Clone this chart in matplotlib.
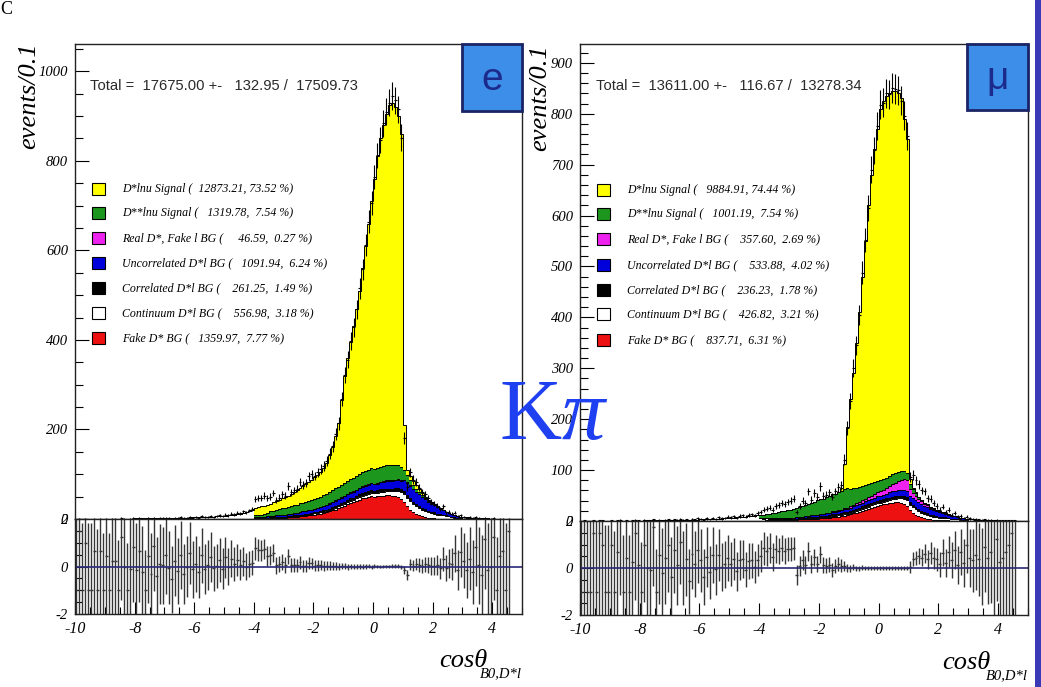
import numpy as np
import matplotlib.pyplot as plt
from matplotlib.patches import Rectangle
from matplotlib.ticker import MultipleLocator

W, H = 1041, 687

# bins of 0.1 from -10 to 5; the components are read for the core window -4.0 .. 3.0
edges = np.round(np.arange(-10.0, 5.0001, 0.1), 2)
centers = edges[:-1] + 0.05

legend_names = ['D*lnu Signal', 'D**lnu Signal', 'Real D*, Fake l BG',
                'Uncorrelated D*l BG', 'Correlated D*l BG', 'Continuum D*l BG',
                'Fake D* BG']

# ---- electron panel -------------------------------------------------------
e_total_text = 'Total =  17675.00 +-   132.95 /  17509.73'
e_counts = [12873.21, 1319.78, 46.59, 1091.94, 261.25, 556.98, 1359.97]
e_percent = [73.52, 7.54, 0.27, 6.24, 1.49, 3.18, 7.77]

e_signal = [17, 18, 18, 18, 18, 17, 19, 20, 21, 22,
            24, 25, 27, 29, 33, 35, 38, 40, 42, 46,
            48, 51, 56, 62, 70, 82, 95, 116, 143, 188,
            240, 275, 306, 338, 375, 409, 456, 503, 550, 597,
            648, 697, 734, 762, 785, 804, 809, 799, 779, 743,
            100, 12, 8, 9, 7, 5, 4, 2, 2, 0,
            1, 1, 0, 0, 0, 0, 0, 0, 0, 0]
e_dss = [4, 5, 6, 7, 8, 10, 11, 12, 13, 15,
         15, 16, 17, 17, 18, 19, 19, 20, 21, 21,
         22, 23, 23, 24, 25, 25, 26, 27, 27, 28,
         28, 29, 29, 30, 30, 31, 31, 32, 32, 32,
         33, 33, 33, 34, 34, 34, 34, 33, 32, 30,
         22, 16, 12, 9, 7, 5, 4, 3, 2, 2,
         1, 1, 1, 1, 0, 0, 0, 0, 0, 0]
e_fakel = [0, 0, 0, 0, 0, 0, 0, 0, 0, 0,
           0, 0, 0, 0, 0, 0, 0, 0, 0, 0,
           0, 0, 0, 0, 0, 1, 1, 1, 1, 1,
           1, 1, 1, 1, 1, 1, 1, 1, 1, 1,
           1, 1, 1, 2, 2, 2, 2, 2, 2, 2,
           2, 2, 2, 1, 1, 1, 1, 1, 1, 1,
           0, 0, 0, 0, 0, 0, 0, 0, 0, 0]
e_uncorr = [2, 2, 2, 3, 3, 3, 3, 4, 4, 4,
            5, 5, 5, 6, 6, 6, 7, 7, 8, 8,
            8, 9, 9, 10, 10, 11, 11, 12, 12, 13,
            12, 12, 13, 13, 13, 14, 14, 14, 15, 15,
            15, 15, 16, 16, 16, 17, 17, 17, 18, 18,
            24, 26, 27, 27, 26, 25, 24, 22, 20, 18,
            16, 14, 12, 10, 8, 7, 6, 5, 4, 3]
e_corr = [0, 0, 0, 0, 0, 1, 1, 1, 1, 1,
          1, 1, 1, 1, 1, 2, 2, 2, 2, 2,
          2, 2, 3, 3, 3, 3, 4, 4, 4, 4,
          5, 5, 5, 5, 5, 6, 6, 6, 6, 6,
          6, 6, 6, 6, 6, 6, 6, 6, 6, 6,
          6, 6, 6, 5, 5, 5, 4, 4, 3, 3,
          3, 2, 2, 2, 1, 1, 1, 1, 0, 0]
e_cont = [1, 1, 1, 1, 1, 1, 1, 1, 1, 1,
          1, 1, 2, 2, 2, 2, 2, 2, 2, 2,
          3, 3, 3, 3, 3, 3, 4, 4, 4, 4,
          4, 5, 5, 5, 5, 6, 6, 6, 6, 7,
          7, 7, 8, 8, 9, 9, 10, 12, 14, 16,
          18, 20, 20, 19, 18, 17, 15, 14, 12, 11,
          10, 9, 8, 7, 6, 5, 4, 3, 3, 2]
e_faked = [1, 1, 1, 1, 2, 2, 2, 2, 3, 3,
           3, 4, 4, 5, 5, 6, 6, 7, 8, 9,
           10, 11, 12, 13, 15, 17, 19, 21, 24, 27,
           30, 33, 36, 38, 41, 43, 46, 48, 50, 52,
           50, 51, 52, 52, 53, 53, 52, 51, 49, 45,
           38, 28, 20, 15, 11, 8, 6, 4, 3, 2,
           2, 1, 1, 1, 1, 1, 0, 0, 0, 0]
e_data = [44, 46, 47, 52, 46, 50, 58, 42, 48, 55,
          52, 74, 60, 64, 68, 82, 76, 80, 95, 100,
          96, 104, 112, 118, 130, 146, 162, 190, 214, 268,
          322, 356, 398, 428, 468, 515, 558, 612, 664, 706,
          764, 812, 846, 884, 910, 930, 945, 935, 915, 852,
          180, 72, 104, 88, 82, 70, 60, 55, 46, 38,
          34, 30, 22, 28, 15, 16, 12, 14, 6, 8]
# fit and data outside the core window (-10 .. -4 and 3 .. 5)
e_tail_lo_fit = [0.4, 0.4, 0.5, 0.5, 0.5, 0.5, 0.6, 0.6, 0.6, 0.7,
                 0.7, 0.7, 0.8, 0.8, 0.9, 0.9, 1.0, 1.0, 1.1, 1.1,
                 1.2, 1.2, 1.3, 1.4, 1.4, 1.5, 1.6, 1.7, 1.8, 1.9,
                 2.0, 2.1, 2.2, 2.4, 2.5, 2.7, 2.9, 3.0, 3.2, 3.4,
                 3.6, 3.9, 4.1, 4.4, 4.7, 5.0, 5.4, 5.8, 6.2, 6.6,
                 7.2, 8, 9, 10, 11, 12, 14, 15, 17, 19]
e_tail_lo_data = [0, 1, 0, 1, 0, 0, 1, 0, 1, 0,
                  1, 0, 1, 1, 0, 2, 1, 0, 1, 2,
                  1, 2, 1, 0, 2, 1, 3, 1, 2, 2,
                  3, 2, 1, 3, 2, 4, 2, 3, 5, 3,
                  4, 3, 6, 4, 5, 7, 5, 6, 8, 6,
                  10, 8, 12, 11, 14, 13, 17, 15, 19, 22]
e_tail_hi_fit = [4, 3.5, 3, 2.6, 2.2, 1.9, 1.6, 1.4, 1.2, 1.0,
                 0.9, 0.8, 0.7, 0.6, 0.5, 0.4, 0, 0, 0, 0]
e_tail_hi_data = [5, 3, 4, 2, 4, 2, 1, 3, 1, 1,
                  2, 0, 1, 1, 0, 1, 0, 0, 0, 0]

# ---- muon panel -----------------------------------------------------------
m_total_text = 'Total =  13611.00 +-   116.67 /  13278.34'
m_counts = [9884.91, 1001.19, 357.60, 533.88, 236.23, 426.82, 837.71]
m_percent = [74.44, 7.54, 2.69, 4.02, 1.78, 3.21, 6.31]

m_signal = [0, 0, 0, 0, 0, 0, 0, 0, 0, 0,
            0, 0, 0, 0, 0, 0, 0, 0, 0, 0,
            0, 0, 0, 0, 0, 0, 0, 5, 50, 120,
            177, 226, 285, 344, 411, 479, 547, 605, 653, 691,
            730, 742, 750, 752, 753, 751, 744, 732, 692, 656,
            10, 3, 1, 0, 0, 0, 0, 0, 0, 0,
            0, 0, 0, 0, 0, 0, 0, 0, 0, 0]
m_dss = [6, 7, 8, 9, 10, 11, 12, 13, 14, 15,
         16, 18, 19, 20, 22, 23, 24, 24, 26, 29,
         30, 31, 32, 33, 34, 35, 36, 37, 37, 38,
         34, 32, 30, 29, 28, 27, 26, 25, 24, 23,
         22, 22, 21, 20, 20, 19, 18, 17, 16, 14,
         10, 7, 5, 4, 3, 2, 2, 1, 1, 1,
         1, 0, 0, 0, 0, 0, 0, 0, 0, 0]
m_fakel = [0, 0, 0, 0, 0, 0, 0, 0, 0, 0,
           0, 0, 0, 0, 0, 0, 0, 0, 0, 0,
           0, 0, 0, 0, 1, 1, 1, 1, 2, 2,
           3, 3, 4, 4, 5, 5, 6, 6, 7, 7,
           8, 9, 10, 12, 14, 16, 18, 20, 22, 22,
           14, 10, 8, 6, 5, 4, 3, 2, 2, 1,
           1, 1, 1, 1, 0, 0, 0, 0, 0, 0]
m_uncorr = [1, 1, 1, 1, 1, 2, 2, 2, 2, 2,
            2, 2, 3, 3, 3, 3, 3, 4, 4, 4,
            4, 4, 5, 5, 5, 5, 6, 6, 6, 6,
            6, 7, 7, 7, 7, 8, 8, 8, 8, 9,
            9, 9, 9, 10, 10, 10, 10, 11, 11, 11,
            12, 13, 14, 14, 14, 13, 13, 12, 11, 10,
            9, 8, 7, 6, 5, 5, 4, 3, 3, 2]
m_corr = [0, 0, 0, 0, 0, 0, 1, 1, 1, 1,
          1, 1, 1, 1, 1, 1, 2, 2, 2, 2,
          2, 2, 2, 3, 3, 3, 3, 3, 4, 4,
          4, 4, 4, 4, 5, 5, 5, 5, 5, 5,
          5, 5, 5, 5, 5, 5, 5, 5, 5, 5,
          5, 5, 5, 5, 4, 4, 4, 3, 3, 3,
          2, 2, 2, 1, 1, 1, 1, 1, 0, 0]
m_cont = [5, 4, 4, 3, 3, 2, 2, 2, 1, 1,
          1, 1, 1, 1, 1, 2, 2, 2, 2, 2,
          2, 2, 2, 2, 3, 3, 3, 3, 3, 3,
          3, 3, 4, 4, 4, 4, 4, 5, 5, 5,
          5, 5, 6, 6, 7, 7, 8, 9, 10, 12,
          10, 11, 11, 10, 9, 8, 7, 6, 6, 5,
          5, 5, 4, 4, 3, 3, 3, 2, 2, 2]
m_faked = [0, 0, 1, 1, 1, 1, 1, 1, 1, 2,
           2, 2, 2, 3, 3, 3, 3, 4, 4, 4,
           5, 5, 6, 6, 7, 7, 8, 9, 10, 11,
           13, 15, 16, 18, 20, 22, 24, 26, 28, 30,
           31, 33, 34, 35, 36, 37, 37, 36, 34, 30,
           22, 16, 12, 9, 7, 5, 4, 3, 2, 2,
           1, 1, 1, 1, 0, 0, 0, 0, 0, 0]
m_data = [18, 22, 24, 26, 22, 29, 31, 35, 33, 38,
          40, 44, 18, 30, 40, 36, 58, 42, 55, 48,
          68, 50, 52, 56, 48, 58, 66, 70, 120, 182,
          236, 300, 345, 405, 488, 552, 615, 690, 728, 776,
          818, 822, 840, 838, 850, 848, 846, 826, 796, 757,
          86, 90, 80, 72, 60, 58, 45, 44, 36, 30,
          22, 28, 18, 22, 12, 16, 9, 10, 6, 8]
m_tail_lo_fit = [0.3, 0.3, 0.3, 0.4, 0.4, 0.4, 0.4, 0.5, 0.5, 0.5,
                 0.5, 0.6, 0.6, 0.6, 0.7, 0.7, 0.7, 0.8, 0.8, 0.9,
                 0.9, 1.0, 1.0, 1.1, 1.1, 1.2, 1.3, 1.3, 1.4, 1.5,
                 1.6, 1.7, 1.8, 1.9, 2.0, 2.2, 2.3, 2.5, 2.6, 2.8,
                 3.0, 3.2, 3.4, 3.7, 3.9, 4.2, 4.5, 4.8, 5.2, 5.6,
                 6.0, 6.5, 7.0, 7.5, 8.0, 8.6, 9.2, 9.8, 10.5, 11.2]
m_tail_lo_data = [0, 1, 0, 0, 1, 0, 1, 1, 0, 0,
                  1, 0, 1, 2, 0, 1, 0, 1, 2, 1,
                  0, 2, 1, 1, 3, 0, 2, 1, 2, 3,
                  1, 3, 2, 4, 2, 3, 1, 4, 3, 5,
                  4, 2, 5, 3, 6, 4, 7, 5, 6, 8,
                  7, 9, 6, 10, 11, 8, 12, 13, 11, 15]
m_tail_hi_fit = [3.5, 3, 2.6, 2.2, 1.9, 1.6, 1.4, 1.2, 1.0, 0.9,
                 0.8, 0.7, 0.6, 0.5, 0.4, 0.3, 0, 0, 0, 0]
m_tail_hi_data = [5, 4, 4, 3, 2, 3, 2, 2, 1, 2,
                  1, 1, 1, 1, 1, 1, 0, 0, 0, 0]

MC_W = 4.0   # MC weight used for the residual errors
fill_colors = ['#ee1111', 'white', 'black', '#0000dd', '#ee22ee', '#1c961c', '#ffff00']
legend_colors = ['#ffff00', '#1c961c', '#ee22ee', '#0000dd', 'black', 'white', '#ee1111']

plt.rcParams['font.family'] = ['Liberation Serif', 'DejaVu Serif']
plt.rcParams['font.style'] = 'italic'
plt.rcParams['axes.unicode_minus'] = False
plt.rcParams['mathtext.fontset'] = 'custom'
plt.rcParams['mathtext.rm'] = 'Liberation Serif'
plt.rcParams['mathtext.it'] = 'Liberation Serif:italic'


def pad(core, lo=None, hi=None):
    lo = np.zeros(60) if lo is None else np.asarray(lo, float)
    hi = np.zeros(20) if hi is None else np.asarray(hi, float)
    return np.concatenate([lo, np.asarray(core, float), hi])


def px_rect(left, top, right, bottom):
    return [left / W, 1 - bottom / H, (right - left) / W, (bottom - top) / H]


def draw_panel(fig, box, ymax, ymajor, yminor, comps, lo_fit, hi_fit, data, lo_data, hi_data):
    left, top, right, mid, bottom = box
    ax = fig.add_axes(px_rect(left, top, right, mid))
    axr = fig.add_axes(px_rect(left, mid, right, bottom))

    faked, cont, corr, uncorr, fakel, dss, signal = comps
    layers = [pad(faked), pad(cont, lo_fit, hi_fit), pad(corr), pad(uncorr),
              pad(fakel), pad(dss), pad(signal)]
    base = np.zeros(len(centers))
    for vals, c in zip(layers, fill_colors):
        topv = base + vals
        ax.stairs(topv, edges, baseline=base, fill=True, color=c, lw=0)
        ax.stairs(topv, edges, baseline=None, color='black', lw=0.7)
        base = topv
    fit = base

    d = pad(data, lo_data, hi_data)
    m = d > 0
    ax.errorbar(centers[m], d[m], yerr=np.sqrt(d[m]), xerr=0.05, fmt='none',
                ecolor='black', elinewidth=0.8, capsize=0, zorder=5)

    ax.set_xlim(-10, 5)
    ax.set_ylim(0, ymax)
    ax.yaxis.set_major_locator(MultipleLocator(ymajor))
    ax.yaxis.set_minor_locator(MultipleLocator(yminor))
    ax.tick_params(axis='x', bottom=False, labelbottom=False)
    ax.tick_params(axis='y', which='major', direction='in', length=10, width=0.8,
                   labelsize=10.5, pad=5)
    ax.tick_params(axis='y', which='minor', direction='in', length=6, width=0.8)

    # residuals (data - fit) / fit
    f = fit > 0
    res = (d[f] - fit[f]) / fit[f]
    err = np.sqrt(d[f] + MC_W * fit[f]) / fit[f]
    axr.errorbar(centers[f], res, yerr=err, xerr=0.05, fmt='none',
                 ecolor='#363636', elinewidth=1.0, capsize=0)
    axr.axhline(0, color='#2a2a78', lw=1.2)
    axr.set_xlim(-10, 5)
    axr.set_ylim(-2, 2)
    axr.yaxis.set_major_locator(MultipleLocator(2))
    axr.yaxis.set_minor_locator(MultipleLocator(0.5))
    axr.xaxis.set_major_locator(MultipleLocator(2))
    axr.xaxis.set_minor_locator(MultipleLocator(0.5))
    axr.tick_params(which='major', direction='in', length=9, width=0.8, labelsize=11.5, pad=5)
    axr.tick_params(which='minor', direction='in', length=5, width=0.8)
    axr.tick_params(axis='y', labelsize=10.5)
    axr.set_xticks([-10, -8, -6, -4, -2, 0, 2, 4])

    for a in (ax, axr):
        for s in a.spines.values():
            s.set_linewidth(1.0)
            s.set_color('#222222')
    return ax, axr


fig = plt.figure(figsize=(W / 100, H / 100), dpi=100)
fig.patch.set_facecolor('white')

e_comps = [e_faked, e_cont, e_corr, e_uncorr, e_fakel, e_dss, e_signal]
m_comps = [m_faked, m_cont, m_corr, m_uncorr, m_fakel, m_dss, m_signal]
draw_panel(fig, (75, 44, 522, 519, 614), 1061, 200, 50, e_comps,
           e_tail_lo_fit, e_tail_hi_fit, e_data, e_tail_lo_data, e_tail_hi_data)
draw_panel(fig, (580, 44, 1028, 521, 615), 937, 100, 20, m_comps,
           m_tail_lo_fit, m_tail_hi_fit, m_data, m_tail_lo_data, m_tail_hi_data)


def ftext(x, y, s, **kw):
    fig.text(x / W, 1 - y / H, s, **kw)


def legend(x_box, x_text, ys, counts, percents):
    for y, name, c, n, p in zip(ys, legend_names, legend_colors, counts, percents):
        fig.add_artist(Rectangle((x_box / W, 1 - (y + 6) / H), 13 / W, 12 / H,
                                 facecolor=c, edgecolor='black', lw=0.8,
                                 transform=fig.transFigure))
        ftext(x_text, y, '%s ( %9.2f, %5.2f %%)' % (name, n, p),
              fontsize=8.6, va='center', ha='left')


legend(92, 122, [189, 213, 238, 263, 288, 313, 338], e_counts, e_percent)
legend(597, 627, [190, 214, 239, 265, 290, 314, 340], m_counts, m_percent)

ftext(90, 86, e_total_text, family='Liberation Sans', style='normal',
      fontsize=10.6, va='center', ha='left', color='#2a2a2a')
ftext(596, 86, m_total_text, family='Liberation Sans', style='normal',
      fontsize=10.6, va='center', ha='left', color='#2a2a2a')

# y axis titles
ftext(29, 96, 'events/0.1', rotation=90, fontsize=19, ha='center', va='center')
ftext(540, 98, 'events/0.1', rotation=90, fontsize=19, ha='center', va='center')

# x axis titles
ftext(487, 667, 'cosθ', fontsize=19, ha='right', va='baseline')
ftext(522, 677, 'B0,D*l', fontsize=10.5, ha='right', va='baseline')
ftext(990, 669, 'cosθ', fontsize=19, ha='right', va='baseline')
ftext(1028, 679, 'B0,D*l', fontsize=10.5, ha='right', va='baseline')

# lepton boxes
for (x0, y0, x1, y1), lab in [((462, 44, 522, 111), 'e'), ((967, 44, 1028, 110), 'μ')]:
    fig.add_artist(Rectangle((x0 / W, 1 - y1 / H), (x1 - x0) / W, (y1 - y0) / H,
                             facecolor='#3d8ee9', edgecolor='#1b2466', lw=2,
                             transform=fig.transFigure, zorder=10))
    fig.text((x0 + x1) / 2 / W, 1 - ((y0 + y1) / 2 + 2) / H, lab, family='Liberation Sans',
             style='normal', fontsize=28, color='#1c2a8c', ha='center', va='center',
             zorder=11)

# channel label
ftext(554, 418, r'K$\pi$', family='Liberation Serif', style='normal', fontsize=62,
      color='#1f40f0', ha='center', va='center')

# slide edge
fig.add_artist(Rectangle((1035 / W, 0), 6 / W, 1, facecolor='#3a3ab6', lw=0,
                         transform=fig.transFigure))
ftext(0, 9, 'C', family='Liberation Serif', style='normal', fontsize=13,
      ha='left', va='center', color='black')

fig.savefig('out.png', dpi=100)
